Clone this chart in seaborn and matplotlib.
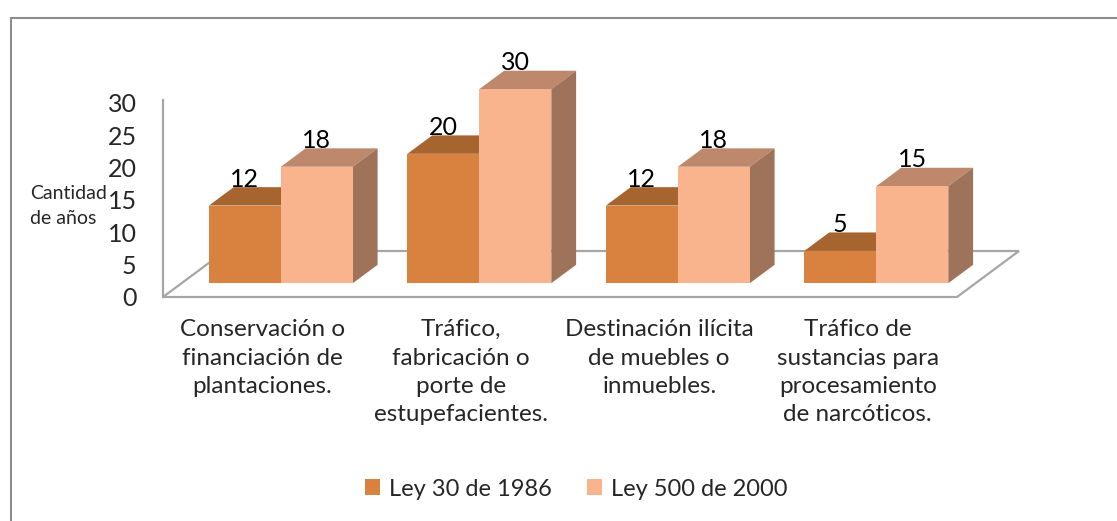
import numpy as np
import pandas as pd
import matplotlib
matplotlib.use("Agg")
import matplotlib.pyplot as plt
import seaborn as sns
from matplotlib.patches import Polygon, Patch
from matplotlib.lines import Line2D

# Datos
categorias = [
    "Conservación o\nfinanciación de\nplantaciones.",
    "Tráfico,\nfabricación o\nporte de\nestupefacientes.",
    "Destinación ilícita\nde muebles o\ninmuebles.",
    "Tráfico de\nsustancias para\nprocesamiento\nde narcóticos.",
]
leyes = ["Ley 30 de 1986", "Ley 500 de 2000"]
ley_30 = [12, 20, 12, 5]
ley_500 = [18, 30, 18, 15]
y_ticks = [0, 5, 10, 15, 20, 25, 30]

df = pd.DataFrame({
    "delito": categorias * 2,
    "anios": ley_30 + ley_500,
    "ley": [leyes[0]] * 4 + [leyes[1]] * 4,
})

# colores: frente, tapa, lado
COL_FRENTE = ["#D9823F", "#F9B48D"]
COL_TAPA = ["#A6642E", "#BD886B"]
COL_LADO = ["#9A5A2A", "#9E735A"]
GRIS = "#a6a6a6"

sns.set_theme(style="white")
plt.rcParams["font.family"] = ["Lato", "DejaVu Sans"]

W, H = 1117, 521
fig = plt.figure(figsize=(W / 100, H / 100), dpi=100)
# ejes: x 163..957 px, y 0 en 297 px, 6.47 px por unidad
px_y = 6.47
y_top = 30.5
ax = fig.add_axes([163 / W, (H - 297) / H, 794 / W, y_top * px_y / H])

sns.barplot(data=df, x="delito", y="anios", hue="ley", palette=COL_FRENTE,
            width=0.725, dodge=True, saturation=1, legend=False, ax=ax,
            edgecolor="none")

ax.set_xlim(-0.5, 3.5)
ax.set_ylim(0, y_top)
px_x = 794 / 4

# profundidad del piso en px -> datos
Dx, Dy = 62 / px_x, 46 / px_y
fx, fy = 0.3 * Dx, 0.3 * Dy   # frente de las barras
bx, by = 0.4 * Dx, 0.4 * Dy   # fondo de las barras

piso = Polygon([(-0.5, 0), (3.5, 0), (3.5 + Dx, Dy), (-0.5 + Dx, Dy)],
               closed=True, facecolor="white", edgecolor=GRIS, lw=1.6,
               clip_on=False, zorder=1)
ax.add_patch(piso)

for k, cont in enumerate(ax.containers):
    for p in cont.patches:
        x0, w, h = p.get_x() + fx, p.get_width(), p.get_height()
        p.set_x(x0)
        p.set_y(fy)
        p.set_clip_on(False)
        p.set_zorder(3)
        tapa = Polygon([(x0, fy + h), (x0 + w, fy + h),
                        (x0 + w + bx, fy + h + by), (x0 + bx, fy + h + by)],
                       closed=True, facecolor=COL_TAPA[k], edgecolor="none",
                       clip_on=False, zorder=2)
        lado = Polygon([(x0 + w, fy), (x0 + w + bx, fy + by),
                        (x0 + w + bx, fy + h + by), (x0 + w, fy + h)],
                       closed=True, facecolor=COL_LADO[k], edgecolor="none",
                       clip_on=False, zorder=2)
        ax.add_patch(tapa)
        ax.add_patch(lado)
        ax.text(x0 + w / 2, fy + h + by + 0.05, f"{h:.0f}", ha="center",
                va="baseline", fontsize=18, color="black", zorder=5,
                clip_on=False)

ax.set_yticks(y_ticks)
ax.set_yticklabels([str(t) for t in y_ticks], fontsize=18)
ax.set_xticks(range(len(categorias)))
ax.set_xticklabels(categorias, fontsize=17.5, linespacing=1.43,
                   multialignment="center")
ax.tick_params(axis="y", length=0, pad=19)
ax.tick_params(axis="x", length=0, pad=16)
ax.set_xlabel("")
ax.set_ylabel("")
for s in ["top", "right", "bottom"]:
    ax.spines[s].set_visible(False)
ax.spines["left"].set_color(GRIS)
ax.spines["left"].set_linewidth(1.6)
ax.grid(False)

fig.text(30 / W, 1 - 206 / H, "Cantidad\nde años", ha="left", va="center",
         fontsize=14, linespacing=1.6)

handles = [Patch(facecolor=c, edgecolor="none") for c in COL_FRENTE]
fig.legend(handles, leyes, loc="center", bbox_to_anchor=(576 / W, 1 - 489 / H),
           ncol=2, frameon=False, fontsize=17, handlelength=0.65,
           handleheight=0.65, handletextpad=0.35, columnspacing=1.5)

# borde del grafico
fig.add_artist(Line2D([11 / W, 1], [1 - 18 / H, 1 - 18 / H], color="#8c8c8c", lw=1.5))
fig.add_artist(Line2D([11 / W, 11 / W], [0, 1 - 18 / H], color="#8c8c8c", lw=1.5))

fig.savefig("out.png", dpi=100)
